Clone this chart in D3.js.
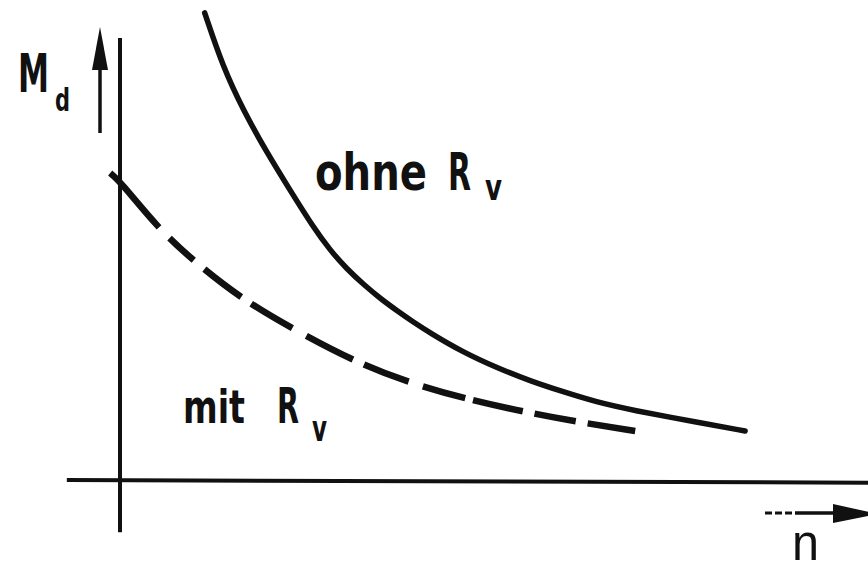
<!DOCTYPE html>
<html>
<head>
<meta charset="utf-8">
<script src="https://cdn.jsdelivr.net/npm/d3@7/dist/d3.min.js"></script>
<style>
  html, body { margin: 0; padding: 0; background: #fff; }
  svg { display: block; }
  .lbl { font-family: "DejaVu Sans", sans-serif; font-weight: bold; fill: #111; }
</style>
</head>
<body>
<svg id="chart" width="868" height="566"></svg>
<script>
// Torque M_d over speed n, with and without series resistor R_v (qualitative units)
const nOhne = [12.1, 14.7, 17.6, 21.0, 24.3, 27.6, 30.0, 32.4, 34.9, 37.3, 39.6, 41.9, 44.3, 49.0, 53.9, 58.6, 63.3, 68.1, 72.9, 82.9, 89.3];
const mOhne = [103.8, 91.8, 82.2, 72.7, 64.4, 56.2, 51.1, 46.9, 43.3, 40.2, 37.6, 35.1, 32.7, 28.4, 24.9, 22.0, 19.6, 17.3, 15.6, 12.7, 10.9];

const nMit = [-1.4, 0, 5.4, 10.7, 17.6, 25, 33.9, 41.9, 50, 57.9, 65.4, 73.6];
const mMit = [68.2, 66.4, 56, 48.4, 40, 33.3, 26, 21.3, 17.8, 15.1, 12.9, 10.9];

const curveNames = ["ohne", "mit"];

const svg = d3.select("#chart");
const ink = "#111";

const x = d3.scaleLinear().domain([0, 100]).range([120, 820]);
const y = d3.scaleLinear().domain([0, 100]).range([480, 30]);

// axes: plain crossing lines without ticks
svg.append("line")
  .attr("x1", x(-7.6)).attr("x2", x(107))
  .attr("y1", y(0)).attr("y2", y(-0.6))
  .attr("stroke", ink).attr("stroke-width", 4);
svg.append("line")
  .attr("x1", x(0)).attr("x2", x(0))
  .attr("y1", y(98.2)).attr("y2", y(-11.6))
  .attr("stroke", ink).attr("stroke-width", 4);

// M_d direction arrow
svg.append("line")
  .attr("x1", 100).attr("x2", 100).attr("y1", 133).attr("y2", 66)
  .attr("stroke", ink).attr("stroke-width", 3.5);
svg.append("path")
  .attr("d", "M100,27 L108,70 L92,70 Z")
  .attr("fill", ink);

// n direction arrow
svg.append("line")
  .attr("x1", 765).attr("x2", 795).attr("y1", 513).attr("y2", 513)
  .attr("stroke", ink).attr("stroke-width", 3).attr("stroke-dasharray", "7,3");
svg.append("line")
  .attr("x1", 795).attr("x2", 840).attr("y1", 513).attr("y2", 513)
  .attr("stroke", ink).attr("stroke-width", 3.5);
svg.append("path")
  .attr("d", "M833,504 L878,514 L833,523 Z")
  .attr("fill", ink);

const line = d3.line()
  .x(d => x(d[0]))
  .y(d => y(d[1]))
  .curve(d3.curveBasis);

const series = {
  ohne: d3.zip(nOhne, mOhne),
  mit: d3.zip(nMit, mMit)
};

svg.append("path")
  .datum(series[curveNames[0]])
  .attr("d", line)
  .attr("fill", "none")
  .attr("stroke", ink)
  .attr("stroke-width", 5.5)
  .attr("stroke-linecap", "round");

svg.append("path")
  .datum(series[curveNames[1]])
  .attr("d", line)
  .attr("fill", "none")
  .attr("stroke", ink)
  .attr("stroke-width", 6.5)
  .attr("stroke-linecap", "butt")
  .attr("stroke-dasharray", "73,15,33,14,46,12,48,16,52,12,48,15,44,8,51,12,42,12,52,400");

// labels: one text element per label, subscripts as tspans
function label(parts) {
  const t = svg.append("text").attr("class", "lbl");
  parts.forEach(p => {
    t.append("tspan")
      .attr("x", p.x).attr("y", p.y)
      .attr("font-size", p.size)
      .attr("textLength", p.len)
      .attr("lengthAdjust", "spacingAndGlyphs")
      .text(p.t);
  });
}

label([{ t: "M", x: 18, y: 92, size: 53, len: 31 },
       { t: "d", x: 55, y: 111, size: 32, len: 15 }]);

label([{ t: "ohne", x: 315, y: 190, size: 51, len: 112 },
       { t: "R", x: 448, y: 190, size: 51, len: 23 },
       { t: "v", x: 485, y: 200, size: 36, len: 17 }]);

label([{ t: "mit", x: 183, y: 423, size: 47, len: 62 },
       { t: "R", x: 277, y: 423, size: 49, len: 22 },
       { t: "v", x: 312, y: 441, size: 36, len: 15 }]);

svg.append("text")
  .attr("x", 792).attr("y", 560)
  .attr("font-family", "Liberation Sans, Arial, sans-serif")
  .attr("font-size", 52)
  .attr("textLength", 27)
  .attr("lengthAdjust", "spacingAndGlyphs")
  .attr("fill", ink)
  .text("n");
</script>
</body>
</html>
